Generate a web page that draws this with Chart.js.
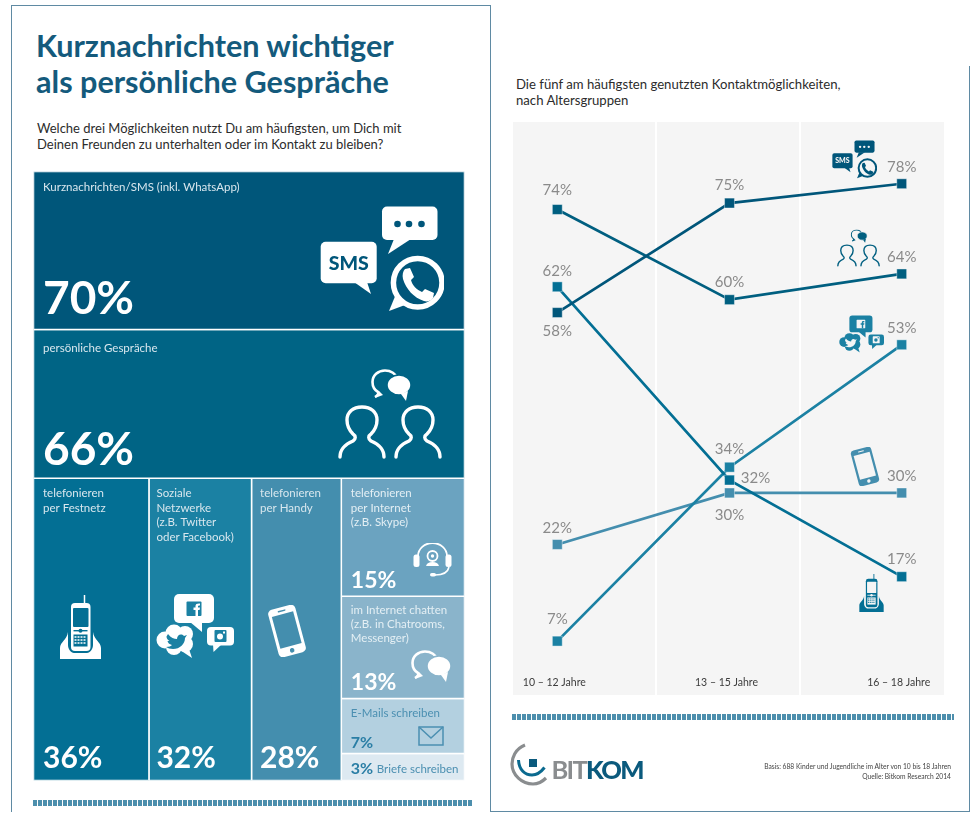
<!DOCTYPE html>
<html>
<head>
<meta charset="utf-8">
<script src="https://cdn.jsdelivr.net/npm/chart.js@4/dist/chart.umd.min.js"></script>
<style>
html, body { margin: 0; padding: 0; background: #fff; }
body { width: 977px; height: 821px; position: relative; overflow: hidden; font-family: Lato, sans-serif; }
.abs, canvas, svg.icon { position: absolute; display: block; }
.frame { position: absolute; background: #5f8aa3; }
.title { left: 36px; top: 28px; font-size: 30.6px; line-height: 35.5px; font-weight: 700; color: #145a7c; white-space: nowrap; }
.sub { font-size: 13px; line-height: 16px; color: #2c2c2c; white-space: nowrap; }
.dash { height: 6px; background: repeating-linear-gradient(90deg, #4d8fad 0, #4d8fad 3.6px, #fff 3.6px, #fff 5px); }
.panel { background: #f5f5f5; top: 122px; height: 573px; }
.foot { right: 26px; top: 761px; font-size: 6.7px; line-height: 10px; color: #444; text-align: right; white-space: nowrap; }
.logo { left: 551.5px; top: 752.5px; font-size: 25.5px; line-height: 32px; font-weight: 700; color: #8a8d8f; letter-spacing: -1.7px; }
.logo b { color: #0b5a7d; font-weight: 900; }
</style>
</head>
<body>
<svg width="0" height="0" style="position:absolute">
  <symbol id="ic-sms" viewBox="10 10 124 108">
    <rect x="72" y="11.5" width="55.5" height="33.5" rx="5" fill="currentColor"/>
    <path d="M84 44 L78 59 L101 44 Z" fill="currentColor"/>
    <circle cx="87.5" cy="29" r="3.3" style="fill:var(--bg)"/><circle cx="99" cy="29" r="3.3" style="fill:var(--bg)"/><circle cx="111.5" cy="29" r="3.3" style="fill:var(--bg)"/>
    <rect x="10.7" y="46.7" width="56" height="41.5" rx="5" fill="currentColor"/>
    <path d="M44 87 L61 99 L57 87 Z" fill="currentColor"/>
    <text x="38.7" y="75" text-anchor="middle" font-family="Lato" font-weight="900" font-size="19.5" style="fill:var(--bg)">SMS</text>
    <circle cx="107.7" cy="87.7" r="24.3" fill="none" stroke="currentColor" stroke-width="5.5"/>
    <path d="M86 99 L79 116 L95 110 Z" fill="currentColor"/>
    <path d="M97 76 L102 75 L106 84 L103 87 C104 92 109 97 114 99 L117 96 L126 100 L125 105 C123 108 119 109 116 108 C106 105 98 96 95 86 C94 82 95 78 97 76 Z" fill="currentColor" transform="translate(-2,-2)"/>
  </symbol>
  <symbol id="ic-chat" viewBox="0 0 41 33">
    <path d="M4 28 C7 26 8 24.5 7 23 C3.5 21 1.5 17 1.5 13 C1.5 6.5 7 1.5 14 1.5 C20 1.5 25 5 26 9" fill="none" stroke="currentColor" stroke-width="2.6"/>
    <path d="M4 29 L8 22 L12 26 Z" fill="currentColor"/>
    <ellipse cx="28" cy="16" rx="12" ry="10" fill="currentColor" style="stroke:var(--bg)" stroke-width="1.5"/>
    <path d="M30 25 L35 32 L37 22 Z" fill="currentColor"/>
  </symbol>
  <symbol id="ic-people" viewBox="336 368 108 92">
    <use href="#ic-chat" x="371" y="369" width="41" height="33"/>
    <g fill="none" stroke="currentColor" stroke-width="3.4" stroke-linecap="round" stroke-linejoin="round">
      <path d="M340 457 C340 448 346 444 353 441 C356 439 356 436 353 434 C349 430 347 425 347 420 C347 412 353 407 362 407 C371 407 377 412 377 420 C377 425 375 430 371 434 C368 436 368 439 371 441 C378 444 384 448 384 457"/>
      <path d="M396 457 C396 448 402 444 409 441 C412 439 412 436 409 434 C405 430 403 425 403 420 C403 412 409 407 418 407 C427 407 433 412 433 420 C433 425 431 430 427 434 C424 436 424 439 427 441 C434 444 440 448 440 457"/>
    </g>
  </symbol>
  <symbol id="ic-cordless" viewBox="0 0 41 64">
    <path d="M24.5 0 V10" stroke="currentColor" stroke-width="1.5"/>
    <path d="M0 64 V53 C0 47 7 45 8 37 V50 C8 54 11 58 14 58 H27 C30 58 33 54 33 50 V37 C34 45 41 47 41 53 V64 Z" fill="currentColor"/>
    <rect x="11" y="8" width="19.5" height="48" rx="4" fill="currentColor"/>
    <rect x="13" y="13" width="15.5" height="19" rx="1" style="fill:var(--bg)"/>
    <rect x="13.5" y="35" width="14" height="1.4" style="fill:var(--bg)"/>
    <circle cx="20.5" cy="35.7" r="2" style="fill:var(--bg)"/>
    <rect x="13.5" y="39.5" width="14" height="12" style="fill:var(--bg)"/>
    <path d="M14.5 42 H26.5 M14.5 45 H26.5 M14.5 48 H26.5" stroke="currentColor" stroke-width="1.4" stroke-dasharray="2 1"/>
  </symbol>
  <symbol id="ic-social" viewBox="0 0 78 64">
    <rect x="18" y="0" width="40" height="29" rx="5" fill="currentColor"/>
    <path d="M34 28 L46 38 L46 28 Z" fill="currentColor"/>
    <rect x="30.5" y="7.5" width="15" height="14.5" rx="1" style="fill:var(--bg)"/>
    <path d="M39.5 22 V16 H37.5 V13.5 H39.5 V12 C39.5 10 41 9.3 44 9.5 V11.6 C42.5 11.6 42 11.7 42 12.5 V13.5 H44 L43.6 16 H42 V22 Z" fill="currentColor"/>
    <circle cx="9" cy="46" r="8.5" fill="currentColor"/><circle cx="18" cy="39" r="8.5" fill="currentColor"/><circle cx="29" cy="40" r="8" fill="currentColor"/>
    <circle cx="29" cy="50" r="8" fill="currentColor"/><circle cx="18" cy="53" r="8" fill="currentColor"/>
    <path d="M24 56 L36 64 L32 52 Z" fill="currentColor"/>
    <path d="M12 40 C15 44 18 45 21 45 C21 41 25 39 28 42 L31 41 L29 44 C29 50 24 55 17 55 C14 55 12 54 10 53 C13 53 15 52 16 51 C13 50 12 49 11.5 47 L13.5 47 C11.5 46 10.5 44 10.5 42.5 Z" style="fill:var(--bg)"/>
    <rect x="51" y="33" width="27" height="18.5" rx="4" fill="currentColor"/>
    <path d="M57 50 L57.5 58 L66 50 Z" fill="currentColor"/>
    <rect x="58.5" y="36" width="12" height="12" rx="1" style="fill:var(--bg)"/>
    <circle cx="64" cy="42.5" r="3" fill="currentColor"/><rect x="67" y="37.5" width="2" height="2" fill="currentColor"/>
  </symbol>
  <symbol id="ic-phone" viewBox="0 0 40 52">
    <g transform="rotate(-15 20 26)">
      <rect x="6" y="1.5" width="28" height="49" rx="4.5" fill="currentColor"/>
      <rect x="9" y="8.5" width="22" height="33" style="fill:var(--bg)"/>
      <circle cx="20" cy="46" r="2.3" style="fill:var(--bg)"/>
      <rect x="16" y="4.5" width="8" height="1.4" rx="0.7" style="fill:var(--bg)"/>
    </g>
  </symbol>
  <symbol id="ic-headset" viewBox="0 0 39 35">
    <path d="M5 13 A14.5 13 0 0 1 34 13" fill="none" stroke="currentColor" stroke-width="1.8"/>
    <rect x="0.5" y="11.5" width="6" height="12.5" rx="2.5" fill="currentColor"/>
    <rect x="32.5" y="11.5" width="6" height="12.5" rx="2.5" fill="currentColor"/>
    <path d="M36 24 C35 29 30 32 22 32" fill="none" stroke="currentColor" stroke-width="1.6"/>
    <rect x="17" y="30" width="6" height="3.6" rx="1.8" fill="currentColor"/>
    <circle cx="19.5" cy="13" r="5" fill="none" stroke="currentColor" stroke-width="1.8"/>
    <circle cx="19.5" cy="13" r="1.7" fill="currentColor"/>
    <path d="M13 23 C14 20 16 19 19.5 19 C23 19 25 20 26 23 Z" fill="currentColor"/>
  </symbol>
</svg>

<div class="frame" style="left:11px;top:5px;width:480px;height:1.3px"></div>
<div class="frame" style="left:11px;top:5px;width:1.3px;height:807px"></div>
<div class="frame" style="left:490px;top:5px;width:1.3px;height:807px"></div>
<div class="frame" style="left:490px;top:811px;width:480px;height:1.3px"></div>
<div class="frame" style="left:969px;top:66px;width:1.3px;height:746px"></div>

<div class="abs title">Kurznachrichten wichtiger<br>als persönliche Gespräche</div>
<div class="abs sub" style="left:37px;top:120px">Welche drei Möglichkeiten nutzt Du am häufigsten, um Dich mit<br>Deinen Freunden zu unterhalten oder im Kontakt zu bleiben?</div>
<div class="abs sub" style="left:516px;top:76px;font-size:13.15px">Die fünf am häufigsten genutzten Kontaktmöglichkeiten,<br>nach Altersgruppen</div>

<div class="abs panel" style="left:513px;width:142px"></div>
<div class="abs panel" style="left:657px;width:142px"></div>
<div class="abs panel" style="left:801px;width:143px"></div>

<canvas id="cells" width="490" height="821" style="left:0;top:0"></canvas>
<canvas id="lines" width="477" height="821" style="left:500px;top:0"></canvas>

<svg class="icon" style="left:320px;top:205px;color:#fff;--bg:#00567a" width="124" height="108"><use href="#ic-sms"/></svg>
<svg class="icon" style="left:336px;top:368px;color:#fff;--bg:#006485" width="108" height="92"><use href="#ic-people"/></svg>
<svg class="icon" style="left:60px;top:595px;color:#fff;--bg:#036f94" width="41" height="64"><use href="#ic-cordless"/></svg>
<svg class="icon" style="left:156px;top:594px;color:#fff;--bg:#1b81a3" width="78" height="64"><use href="#ic-social"/></svg>
<svg class="icon" style="left:267px;top:605px;color:#fff;--bg:#448eae" width="40" height="52"><use href="#ic-phone"/></svg>
<svg class="icon" style="left:412.5px;top:543px;color:#fff;--bg:#6ba3c0" width="39" height="35"><use href="#ic-headset"/></svg>
<svg class="icon" style="left:410.5px;top:650px;color:#fff;--bg:#8ab4cb" width="41" height="33"><use href="#ic-chat"/></svg>
<svg class="icon" style="left:418px;top:726px" width="26" height="20"><rect x="1" y="1" width="24" height="18" fill="none" stroke="#4b8fb1" stroke-width="1.5"/><path d="M1 1 L13 12 L25 1" fill="none" stroke="#4b8fb1" stroke-width="1.5"/></svg>

<svg class="icon" style="left:832px;top:140px;color:#00567a;--bg:#f5f5f5" width="45" height="39"><use href="#ic-sms"/></svg>
<svg class="icon" style="left:836px;top:229px;color:#005f80;--bg:#f5f5f5" width="45" height="38"><use href="#ic-people"/></svg>
<svg class="icon" style="left:839px;top:315px;color:#1b81a3;--bg:#f5f5f5" width="45" height="38"><use href="#ic-social"/></svg>
<svg class="icon" style="left:850px;top:447px;color:#448eae;--bg:#f5f5f5" width="30" height="39"><use href="#ic-phone"/></svg>
<svg class="icon" style="left:859px;top:574px;color:#036f94;--bg:#f5f5f5" width="25" height="38"><use href="#ic-cordless"/></svg>

<div class="abs dash" style="left:33px;top:800px;width:440px"></div>
<div class="abs dash" style="left:511.5px;top:714px;width:442px"></div>

<svg class="icon" style="left:505px;top:738px" width="50" height="52">
  <path d="M20 7 C10 11 7 20 7 26 C7 37 17 46 28 46 C33 46 37 44 41 40" fill="none" stroke="#8a8d8f" stroke-width="3.2"/>
  <path d="M13.5 22 C14 32 20 37 27 37 C32 37 36 34 39.5 29.5" fill="none" stroke="#0b6a8f" stroke-width="3"/>
  <rect x="24" y="21" width="8" height="8" fill="#0b5a7d"/>
</svg>
<div class="abs logo">BIT<b>KOM</b></div>
<div class="abs foot">Basis: 688 Kinder und Jugendliche im Alter von 10 bis 18 Jahren<br>Quelle: Bitkom Research 2014</div>

<script>
// Linke Seite: Kacheln
const cellLabels = [
    ["Kurznachrichten/SMS (inkl. WhatsApp)"],
    ["persönliche Gespräche"],
    ["telefonieren", "per Festnetz"],
    ["Soziale", "Netzwerke", "(z.B. Twitter", "oder Facebook)"],
    ["telefonieren", "per Handy"],
    ["telefonieren", "per Internet", "(z.B. Skype)"],
    ["im Internet chatten", "(z.B. in Chatrooms,", "Messenger)"],
    ["E-Mails schreiben"],
    ["Briefe schreiben"],
];
const cellValues = [70, 66, 36, 32, 28, 15, 13, 7, 3];
const cellColors = ["#00567a", "#006485", "#036f94", "#1b81a3", "#448eae", "#6ba3c0", "#8ab4cb", "#b3d0e0", "#dde9f1"];
const labelColors = ["#d8e7ee", "#d8e7ee", "#d8e7ee", "#d8e7ee", "#d8e7ee", "#e4eff4", "#e4eff4", "#4b8fb1", "#4b8fb1"];
const valueColors = ["#fff", "#fff", "#fff", "#fff", "#fff", "#fff", "#fff", "#2a7ea5", "#2a7ea5"];
const valueFonts = [46, 46, 30, 30, 30, 23, 23, 16, 16];
const valueBottoms = [15, 13, 13, 13, 13, 8, 9, 6, 7];
const textInsets = [9.5, 9.5, 9.5, 7.5, 8.5, 9.5, 9.5, 9.5, 9.5];
const labelTops = [19, 23, 19, 19, 19, 19, 17.5, 18, 19];
const labelSteps = [14.5, 14.5, 14.5, 14.5, 14.5, 14.5, 14, 14.5, 14.5];
const smallestCell = 3.42; // Brief-Kachel braucht Platz fuer ihre Beschriftung

// Rechte Seite: Linien
const ageGroups = ["10 – 12 Jahre", "13 – 15 Jahre", "16 – 18 Jahre"];
const smsValues = [58, 75, 78];
const talkValues = [74, 60, 64];
const landlineValues = [62, 32, 17];
const socialValues = [7, 34, 53];
const mobileValues = [22, 30, 30];
const seriesNames = ["Kurznachrichten/SMS", "persönliche Gespräche", "telefonieren per Festnetz", "Soziale Netzwerke", "telefonieren per Handy"];
const seriesColors = ["#00567a", "#005f80", "#036f94", "#1b81a3", "#448eae"];
const labelOffsets = [
    [[0, 19], [0, -18], [0, -17]],
    [[0, -19], [0, -18], [0, -17]],
    [[0, -16], [26, -2], [0, -18]],
    [[0, -22], [0, -18], [0, -17]],
    [[0, -16], [0, 22], [0, -17]],
];

function layoutCells() {
    const w = cellValues.map((v) => Math.max(v, smallestCell));
    const stack = w[5] + w[6] + w[7] + w[8];
    const rowWidth = w[2] + w[3] + w[4] + stack;
    const rowHeight = cellValues.slice(2).reduce((a, b) => a + b, 0);
    const cells = [
        { x0: 0, x1: rowWidth, y0: 0, y1: w[0] },
        { x0: 0, x1: rowWidth, y0: w[0], y1: w[0] + w[1] },
    ];
    const top = w[0] + w[1];
    let x = 0;
    for (let i = 2; i < 5; i++) {
        cells.push({ x0: x, x1: x + w[i], y0: top, y1: top + rowHeight });
        x += w[i];
    }
    let y = top;
    for (let i = 5; i < 9; i++) {
        const h = (w[i] / stack) * rowHeight;
        cells.push({ x0: x, x1: rowWidth, y0: y, y1: y + h });
        y += h;
    }
    return { cells, rowWidth, total: top + rowHeight };
}

const layout = layoutCells();

const cellText = {
    id: "cellText",
    afterDatasetsDraw(chart) {
        const { ctx, scales } = chart;
        layout.cells.forEach((c, i) => {
            const left = scales.x.getPixelForValue(c.x0) + textInsets[i];
            const top = scales.y.getPixelForValue(c.y0);
            const bottom = scales.y.getPixelForValue(c.y1);
            ctx.save();
            ctx.textBaseline = "alphabetic";
            ctx.font = "700 " + valueFonts[i] + "px Lato";
            ctx.fillStyle = valueColors[i];
            ctx.fillText(cellValues[i] + "%", left, bottom - valueBottoms[i]);
            ctx.font = "400 11.5px Lato";
            ctx.fillStyle = labelColors[i];
            if (i === 8) {
                ctx.fillText(cellLabels[i][0], left + 26, bottom - valueBottoms[i] - 1);
            } else {
                cellLabels[i].forEach((line, k) => ctx.fillText(line, left, top + labelTops[i] + k * labelSteps[i]));
            }
            ctx.restore();
        });
    },
};

new Chart(document.getElementById("cells"), {
    type: "scatter",
    data: {
        datasets: layout.cells.map((c, i) => ({
            label: cellLabels[i].join(" "),
            data: [
                { x: c.x0, y: c.y0 },
                { x: c.x1, y: c.y0 },
                { x: c.x1, y: c.y1 },
                { x: c.x0, y: c.y1 },
                { x: c.x0, y: c.y0 },
            ],
            showLine: true,
            fill: "shape",
            backgroundColor: cellColors[i],
            borderColor: "#ffffff",
            borderWidth: 1.5,
            pointRadius: 0,
            tension: 0,
        })),
    },
    options: {
        responsive: false,
        animation: false,
        layout: { padding: { left: 33.5, right: 25.5, top: 171.5, bottom: 40.5 } },
        plugins: { legend: { display: false }, tooltip: { enabled: false } },
        scales: {
            x: { display: false, min: 0, max: layout.rowWidth },
            y: { display: false, min: 0, max: layout.total, reverse: true },
        },
    },
    plugins: [cellText],
});

const pointLabels = {
    id: "pointLabels",
    afterDatasetsDraw(chart) {
        const { ctx } = chart;
        ctx.save();
        ctx.font = "400 15px Lato";
        ctx.fillStyle = "#8a8a8a";
        ctx.textAlign = "center";
        ctx.textBaseline = "middle";
        chart.data.datasets.forEach((ds, i) => {
            chart.getDatasetMeta(i).data.forEach((pt, k) => {
                const off = labelOffsets[i][k];
                ctx.fillText(ds.data[k] + "%", pt.x + off[0], pt.y + off[1]);
            });
        });
        ctx.restore();
    },
};

const lineSeries = [smsValues, talkValues, landlineValues, socialValues, mobileValues];

new Chart(document.getElementById("lines"), {
    type: "line",
    data: {
        labels: ageGroups,
        datasets: lineSeries.map((values, i) => ({
            label: seriesNames[i],
            data: values,
            borderColor: seriesColors[i],
            backgroundColor: seriesColors[i],
            borderWidth: 2.7,
            tension: 0,
            pointStyle: "rect",
            pointRadius: 7,
            pointBorderColor: "rgba(255,255,255,0.5)",
            pointBorderWidth: 0.8,
            clip: false,
        })),
    },
    options: {
        responsive: false,
        animation: false,
        layout: { padding: { left: 57.3, right: 75.3, top: 42, bottom: 128 } },
        plugins: { legend: { display: false }, tooltip: { enabled: false } },
        scales: {
            x: {
                offset: false,
                grid: { display: false },
                border: { display: false },
                afterFit(scale) { scale.height = 39; },
                ticks: { color: "#3c3c3c", padding: 14, labelOffset: -3, maxRotation: 0, font: { family: "Lato", size: 10.5 } },
            },
            y: { display: false, min: 5, max: 100 },
        },
    },
    plugins: [pointLabels],
});
</script>
</body>
</html>
